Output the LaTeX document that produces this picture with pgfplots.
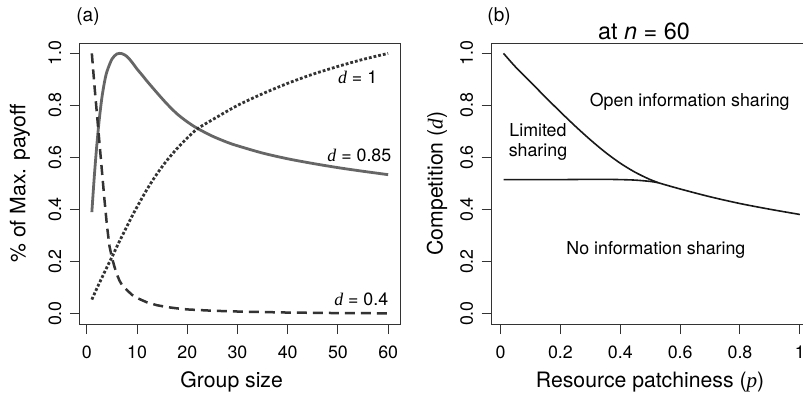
\documentclass[border=0pt]{standalone}
\usepackage{pgfplots}
\pgfplotsset{compat=1.18}
\usepackage{fontspec}
\setmainfont{TeX Gyre Heros}
\newfontfamily\tnr{Liberation Serif}
\newcommand{\tk}{\fontsize{8.9pt}{10pt}\selectfont}
\newcommand{\lb}{\fontsize{10.6pt}{12pt}\selectfont}
\newcommand{\dd}{{\tnr\itshape d}}
\definecolor{solidgray}{HTML}{666666}
\definecolor{darkline}{HTML}{333333}
\begin{document}
\begin{tikzpicture}
\pgfplotsset{
  rstyle/.style={
    scale only axis, width=160pt, height=140.5pt,
    axis line style={line width=0.5pt, draw=black!80},
    tick align=outside, tick pos=left, major tick length=5pt,
    tick style={line width=0.5pt, draw=black!80},
    ymin=-0.04, ymax=1.04,
    ytick={0,0.2,0.4,0.6,0.8,1},
    yticklabels={0.0,0.2,0.4,0.6,0.8,1.0},
    yticklabel style={rotate=90, anchor=center, font=\tk},
    xticklabel style={anchor=center, font=\tk},
    xticklabel shift=9pt, yticklabel shift=7.5pt,
    label style={font=\lb},
    clip=false,
  }
}
\begin{axis}[rstyle,
  xmin=-1.36, xmax=62.36,
  xtick={0,10,20,30,40,50,60},
  xticklabels={0,10,20,30,40,50,60},
  xlabel={Group size},
  xlabel style={at={(rel axis cs:0.474,-0.206)}, anchor=center},
  ylabel={\% of Max. payoff},
  ylabel style={at={(rel axis cs:-0.1875,0.5)}, anchor=center, rotate=0},
]
\addplot[solidgray, line width=1.4pt, smooth] coordinates {
(1,0.39)(1.5,0.53)(2,0.65)(2.5,0.75)(3,0.83)(3.5,0.888)(4,0.93)(5,0.978)(6,0.998)(7,0.999)(8,0.988)(9,0.966)(10,0.94)(11,0.917)(12,0.893)(14,0.848)(16,0.805)(18,0.767)(20,0.737)(22,0.712)(25,0.682)(28,0.658)(30,0.645)(35,0.617)(40,0.595)(45,0.577)(50,0.561)(55,0.547)(60,0.534)};
\addplot[darkline, line width=1.25pt, dash pattern=on 5pt off 3pt] coordinates {
(1,1.0)(1.5,0.88)(2,0.77)(2.5,0.66)(3,0.55)(3.5,0.44)(4,0.34)(4.5,0.26)(5,0.215)(5.5,0.18)(6,0.15)(6.5,0.127)(7,0.11)(8,0.09)(9,0.072)(10,0.06)(12,0.043)(14,0.032)(16,0.025)(18,0.02)(20,0.016)(25,0.011)(30,0.008)(35,0.006)(40,0.004)(50,0.002)(60,0.001)};
\addplot[darkline, line width=1.4pt, dash pattern=on 1.4pt off 1.0pt, smooth] coordinates {
(1,0.054)(2,0.097)(3,0.138)(4,0.178)(5,0.217)(6,0.258)(7,0.297)(8,0.336)(9,0.374)(10,0.41)(12,0.478)(14,0.538)(16,0.59)(18,0.635)(20,0.675)(22,0.71)(25,0.745)(30,0.80)(35,0.845)(40,0.885)(45,0.92)(50,0.95)(55,0.977)(60,1.0)};
\node[anchor=east, font=\tk, inner sep=0pt] at (axis cs:57.9,0.907) {\dd{} = 1};
\node[anchor=east, font=\tk, inner sep=0pt] at (axis cs:60.7,0.61) {\dd{} = 0.85};
\node[anchor=east, font=\tk, inner sep=0pt] at (axis cs:60.1,0.054) {\dd{} = 0.4};
\node[font=\fontsize{9.5pt}{11pt}\selectfont] at (rel axis cs:0.025,1.0925) {(a)};
\end{axis}
\begin{axis}[rstyle, at={(205.85pt,0)},
  xmin=-0.0296, xmax=1.0396,
  xtick={0,0.2,0.4,0.6,0.8,1},
  xticklabels={0,0.2,0.4,0.6,0.8,1},
  xlabel={Resource patchiness ({\tnr\itshape p})},
  xlabel style={at={(rel axis cs:0.495,-0.206)}, anchor=center},
  ylabel={Competition (\dd)},
  ylabel style={at={(rel axis cs:-0.171,0.5)}, anchor=center, rotate=0},
]
\addplot[black!90, line width=0.8pt, smooth] coordinates {
(0.01,1.0)(0.05,0.948)(0.1,0.89)(0.15,0.832)(0.2,0.775)(0.25,0.72)(0.3,0.668)(0.35,0.62)(0.4,0.578)(0.45,0.543)(0.5,0.515)(0.527,0.503)(0.6,0.479)(0.7,0.449)(0.8,0.423)(0.9,0.401)(1.0,0.381)};
\addplot[black!90, line width=0.8pt, smooth] coordinates {
(0.01,0.515)(0.1,0.515)(0.2,0.515)(0.3,0.516)(0.35,0.516)(0.4,0.515)(0.45,0.513)(0.5,0.508)(0.527,0.503)};
\node[font=\tk] at (axis cs:0.632,0.814) {Open information sharing};
\node[font=\tk, align=center] at (axis cs:0.125,0.659) {Limited\\sharing};
\node[font=\tk] at (axis cs:0.519,0.244) {No information sharing};
\node[font=\fontsize{9.5pt}{11pt}\selectfont] at (rel axis cs:0.023,1.0925) {(b)};
\node[font=\fontsize{11.7pt}{13pt}\selectfont] at (rel axis cs:0.476,1.04) {at \textit{n} = 60};
\end{axis}
\pgfresetboundingbox
\useasboundingbox (-40pt,-36.5pt) rectangle (361.5pt,162pt);
\end{tikzpicture}
\end{document}
